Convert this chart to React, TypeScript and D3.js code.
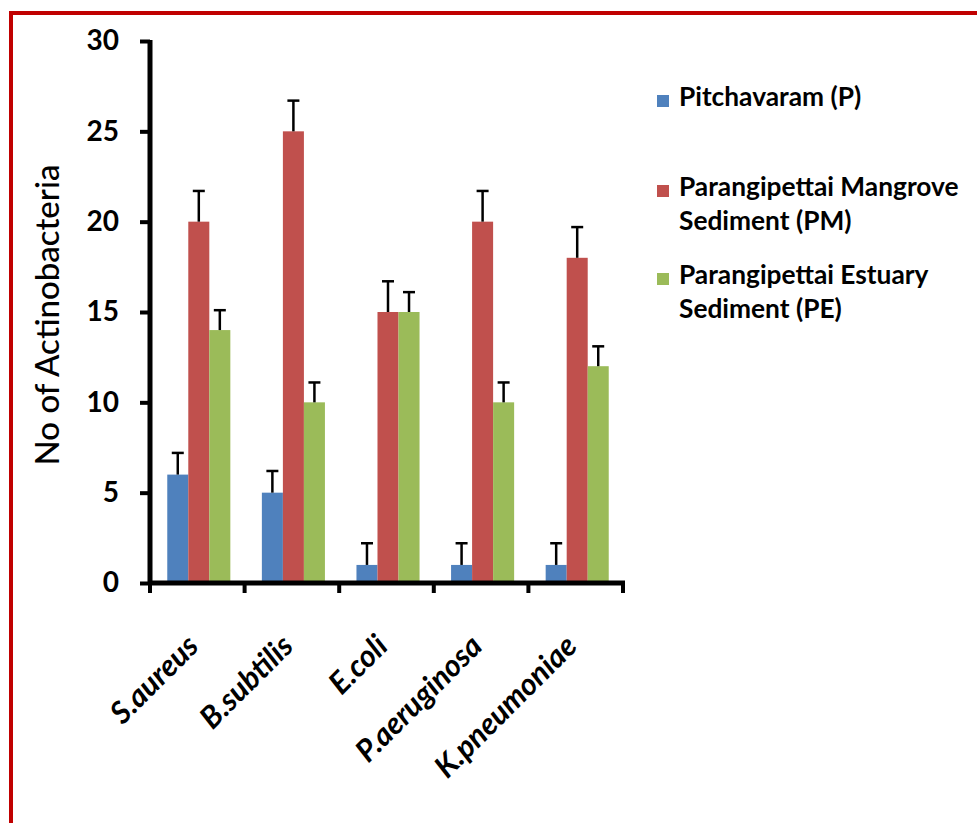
import React, { useEffect, useRef } from 'react';
import * as d3 from 'd3';

const categories = ['S.aureus', 'B.subtilis', 'E.coli', 'P.aeruginosa', 'K.pneumoniae'];
const seriesKeys = ['P', 'PM', 'PE'];
const seriesColors = ['#4F81BD', '#C0504D', '#9BBB59'];
const pitchavaram = [6, 5, 1, 1, 1];
const pitchavaramErr = [1.2, 1.2, 1.2, 1.2, 1.2];
const mangrove = [20, 25, 15, 20, 18];
const mangroveErr = [1.7, 1.7, 1.7, 1.7, 1.7];
const estuary = [14, 10, 15, 10, 12];
const estuaryErr = [1.1, 1.1, 1.1, 1.1, 1.1];
const legendLines = [
    ['Pitchavaram (P)'],
    ['Parangipettai Mangrove', 'Sediment (PM)'],
    ['Parangipettai Estuary', 'Sediment (PE)'],
];
const yTicks = [0, 5, 10, 15, 20, 25, 30];
const yTitle = 'No of Actinobacteria';

const FONT = 'Lato, "Open Sans", sans-serif';

const App: React.FC = () => {
    const svgRef = useRef<SVGSVGElement>(null);

    useEffect(() => {
        if (!svgRef.current) return;
        const svg = d3.select(svgRef.current);
        svg.selectAll('*').remove();

        const values = [pitchavaram, mangrove, estuary];
        const errors = [pitchavaramErr, mangroveErr, estuaryErr];

        // frame
        svg.append('rect')
            .attr('x', 11).attr('y', 13)
            .attr('width', 1000).attr('height', 900)
            .attr('fill', 'white')
            .attr('stroke', '#C00000')
            .attr('stroke-width', 4);

        const x = d3.scaleBand<string>()
            .domain(categories)
            .range([150, 623]);
        const bw = x.bandwidth() / 4.5;
        const xs = d3.scaleBand<string>()
            .domain(seriesKeys)
            .range([0, bw * 3]);
        const groupOffset = (x.bandwidth() - bw * 3) / 2 + 1.5;

        const y = d3.scaleLinear()
            .domain([0, 30])
            .range([583, 41]);

        // bars
        seriesKeys.forEach((key, si) => {
            svg.append('g')
                .selectAll('rect')
                .data(categories)
                .join('rect')
                .attr('x', c => (x(c) ?? 0) + groupOffset + (xs(key) ?? 0))
                .attr('y', (c, i) => y(values[si][i]))
                .attr('width', bw)
                .attr('height', (c, i) => y(0) - y(values[si][i]))
                .attr('fill', seriesColors[si]);
        });

        // error bars (upper only)
        seriesKeys.forEach((key, si) => {
            const g = svg.append('g').attr('stroke', '#000').attr('stroke-width', 2.5);
            categories.forEach((c, i) => {
                const cx = (x(c) ?? 0) + groupOffset + (xs(key) ?? 0) + bw / 2;
                const top = y(values[si][i] + errors[si][i]);
                g.append('line')
                    .attr('x1', cx).attr('x2', cx)
                    .attr('y1', y(values[si][i])).attr('y2', top);
                g.append('line')
                    .attr('x1', cx - 6).attr('x2', cx + 6)
                    .attr('y1', top).attr('y2', top);
            });
        });

        // y axis
        const yAxis = svg.append('g').attr('transform', 'translate(150,0)')
            .call(d3.axisLeft(y).tickValues(yTicks).tickSize(10).tickPadding(21));
        yAxis.select('.domain').attr('stroke', '#000').attr('stroke-width', 5)
            .attr('d', `M0,${y(30) - 1}V${y(0)}`);
        yAxis.selectAll('.tick line').attr('stroke', '#000').attr('stroke-width', 4);
        yAxis.selectAll('.tick text')
            .attr('font-family', FONT)
            .attr('font-size', 28)
            .attr('font-weight', 'bold')
            .attr('fill', '#000');

        // x axis
        const xAxis = svg.append('g').attr('transform', `translate(0,${y(0)})`)
            .call(d3.axisBottom(x).tickSize(0).tickFormat(() => ''));
        xAxis.select('.domain').attr('stroke', '#000').attr('stroke-width', 5)
            .attr('d', `M${x.range()[0] - 2},0H${x.range()[1] + 2}`);
        const bounds = categories.map(c => x(c) ?? 0).concat([x.range()[1]]);
        xAxis.selectAll('line.sep')
            .data(bounds)
            .join('line')
            .attr('class', 'sep')
            .attr('x1', d => d).attr('x2', d => d)
            .attr('y1', 0).attr('y2', 10)
            .attr('stroke', '#000').attr('stroke-width', 4);

        // category labels
        svg.append('g')
            .selectAll('text')
            .data(categories)
            .join('text')
            .attr('transform', c => `translate(${(x(c) ?? 0) + x.bandwidth() / 2 + 3},648) rotate(-45)`)
            .attr('text-anchor', 'end')
            .attr('font-family', FONT)
            .attr('font-size', 30.5)
            .attr('font-weight', 'bold')
            .attr('font-style', 'italic')
            .text(c => c);

        // y title
        svg.append('text')
            .attr('transform', 'translate(46,315) rotate(-90)')
            .attr('text-anchor', 'middle')
            .attr('dominant-baseline', 'central')
            .attr('font-family', FONT)
            .attr('font-size', 33)
            .attr('font-weight', 500)
            .text(yTitle);

        // legend
        const legendY = [106, 196, 284];
        legendLines.forEach((lines, si) => {
            const g = svg.append('g');
            g.append('rect')
                .attr('x', 657).attr('y', legendY[si] - 11)
                .attr('width', 12).attr('height', 12)
                .attr('fill', seriesColors[si]);
            lines.forEach((ln, li) => {
                g.append('text')
                    .attr('x', 679).attr('y', legendY[si] + li * 33.5)
                    .attr('font-family', FONT)
                    .attr('font-size', 26.3)
                    .attr('font-weight', 'bold')
                    .text(ln);
            });
        });
    }, []);

    return (
        <svg ref={svgRef} width={977} height={823}
            style={{ position: 'absolute', left: 0, top: 0, background: 'white' }}></svg>
    );
};

export default App;
